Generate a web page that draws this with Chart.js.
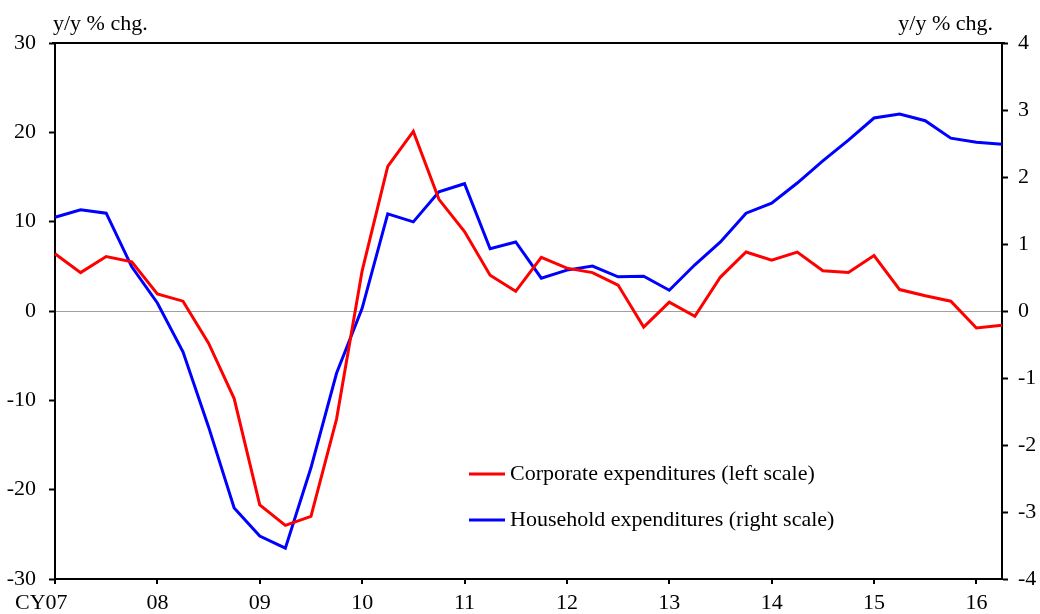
<!DOCTYPE html>
<html>
<head>
<meta charset="utf-8">
<script src="https://cdn.jsdelivr.net/npm/chart.js@4"></script>
<style>
  html, body { margin: 0; padding: 0; background: #fff; }
  #wrap { width: 1040px; height: 614px; }
</style>
</head>
<body>
<div id="wrap"><canvas id="chart" width="1040" height="614"></canvas></div>
<script>
// quarterly, CY07 Q1 .. 16 Q2
const yearLabels = ['CY07', '08', '09', '10', '11', '12', '13', '14', '15', '16'];
const quarters = [];
yearLabels.forEach(y => { for (let q = 1; q <= 4; q++) quarters.push(y + ' Q' + q); });
quarters.length = 38;

const corporate = [6.4, 4.3, 6.1, 5.5, 1.9, 1.1, -3.6, -9.8, -21.7, -24.0,
  -23.0, -12.1, 4.5, 16.2, 20.1, 12.5, 8.9, 4.0, 2.2, 6.0,
  4.8, 4.3, 2.9, -1.8, 1.0, -0.6, 3.8, 6.6, 5.7, 6.6,
  4.5, 4.3, 6.2, 2.4, 1.7, 1.1, -1.9, -1.6];

const household = [1.40, 1.51, 1.46, 0.66, 0.12, -0.61, -1.73, -2.94, -3.36, -3.54,
  -2.34, -0.93, 0.04, 1.45, 1.33, 1.78, 1.90, 0.93, 1.03, 0.49,
  0.61, 0.67, 0.51, 0.52, 0.31, 0.69, 1.03, 1.46, 1.61, 1.91,
  2.24, 2.55, 2.88, 2.94, 2.84, 2.58, 2.52, 2.49];

const leftTicks = [-30, -20, -10, 0, 10, 20, 30];
const rightTicks = [-4, -3, -2, -1, 0, 1, 2, 3, 4];

const serif = "'Liberation Serif', 'Times New Roman', serif";
const fontSize = 22;

const extras = {
  id: 'extras',
  afterDraw(chart) {
    const c = chart.ctx, a = chart.chartArea;
    c.save();
    // top frame line
    c.strokeStyle = '#000';
    c.lineWidth = 2;
    c.beginPath();
    c.moveTo(a.left - 3, a.top);
    c.lineTo(a.right + 3, a.top);
    c.stroke();
    // unit labels
    c.fillStyle = '#000';
    c.font = fontSize + 'px ' + serif;
    c.textBaseline = 'alphabetic';
    c.textAlign = 'left';
    c.fillText('y/y % chg.', 53, 30);
    c.textAlign = 'right';
    c.fillText('y/y % chg.', 993, 30);
    // legend
    const items = [
      { text: 'Corporate expenditures (left scale)', color: '#ff0000', y: 474 },
      { text: 'Household expenditures (right scale)', color: '#0000ff', y: 520 }
    ];
    c.textAlign = 'left';
    c.textBaseline = 'middle';
    items.forEach(it => {
      c.strokeStyle = it.color;
      c.lineWidth = 3;
      c.beginPath();
      c.moveTo(469, it.y);
      c.lineTo(505, it.y);
      c.stroke();
      c.fillStyle = '#000';
      c.fillText(it.text, 510, it.y);
    });
    c.restore();
  }
};

new Chart(document.getElementById('chart'), {
  type: 'line',
  data: {
    labels: quarters,
    datasets: [
      {
        label: 'Corporate expenditures (left scale)',
        data: corporate,
        yAxisID: 'yL',
        borderColor: '#ff0000',
        borderWidth: 3,
        pointRadius: 0,
        tension: 0
      },
      {
        label: 'Household expenditures (right scale)',
        data: household,
        yAxisID: 'yR',
        borderColor: '#0000ff',
        borderWidth: 3,
        pointRadius: 0,
        tension: 0
      }
    ]
  },
  options: {
    responsive: false,
    animation: false,
    layout: { padding: { top: 43, bottom: 0, left: 0, right: 0 } },
    plugins: {
      legend: { display: false },
      tooltip: { enabled: false }
    },
    scales: {
      x: {
        type: 'category',
        offset: false,
        border: { color: '#000', width: 2 },
        grid: {
          drawOnChartArea: false,
          tickLength: 5,
          lineWidth: 2,
          tickColor: ctx => (ctx.index % 4 === 0 ? '#000' : 'rgba(0,0,0,0)')
        },
        ticks: {
          autoSkip: false,
          maxRotation: 0,
          padding: 6,
          color: '#000',
          font: { family: serif, size: fontSize },
          callback: (v, i) => {
            if (i % 4 !== 0) return '';
            const y = yearLabels[i / 4];
            return y === 'CY07' ? 'CY07\u2002\u2002 ' : y;
          }
        },
        afterFit: s => { s.height = 35; }
      },
      yL: {
        position: 'left',
        min: -30,
        max: 30,
        border: { color: '#000', width: 2 },
        grid: {
          color: ctx => (ctx.tick && ctx.tick.value === 0 ? '#a0a0a0' : 'rgba(0,0,0,0)'),
          lineWidth: 1,
          tickColor: '#000',
          tickWidth: 2,
          tickLength: 6
        },
        afterBuildTicks: s => { s.ticks = leftTicks.map(v => ({ value: v })); },
        ticks: {
          padding: 13,
          color: '#000',
          font: { family: serif, size: fontSize }
        },
        afterFit: s => { s.width = 55; }
      },
      yR: {
        position: 'right',
        min: -4,
        max: 4,
        border: { color: '#000', width: 2 },
        grid: {
          drawOnChartArea: false,
          tickColor: '#000',
          tickWidth: 2,
          tickLength: 6
        },
        afterBuildTicks: s => { s.ticks = rightTicks.map(v => ({ value: v })); },
        ticks: {
          padding: 10,
          color: '#000',
          font: { family: serif, size: fontSize }
        },
        afterFit: s => { s.width = 38; }
      }
    }
  },
  plugins: [extras]
});
</script>
</body>
</html>
